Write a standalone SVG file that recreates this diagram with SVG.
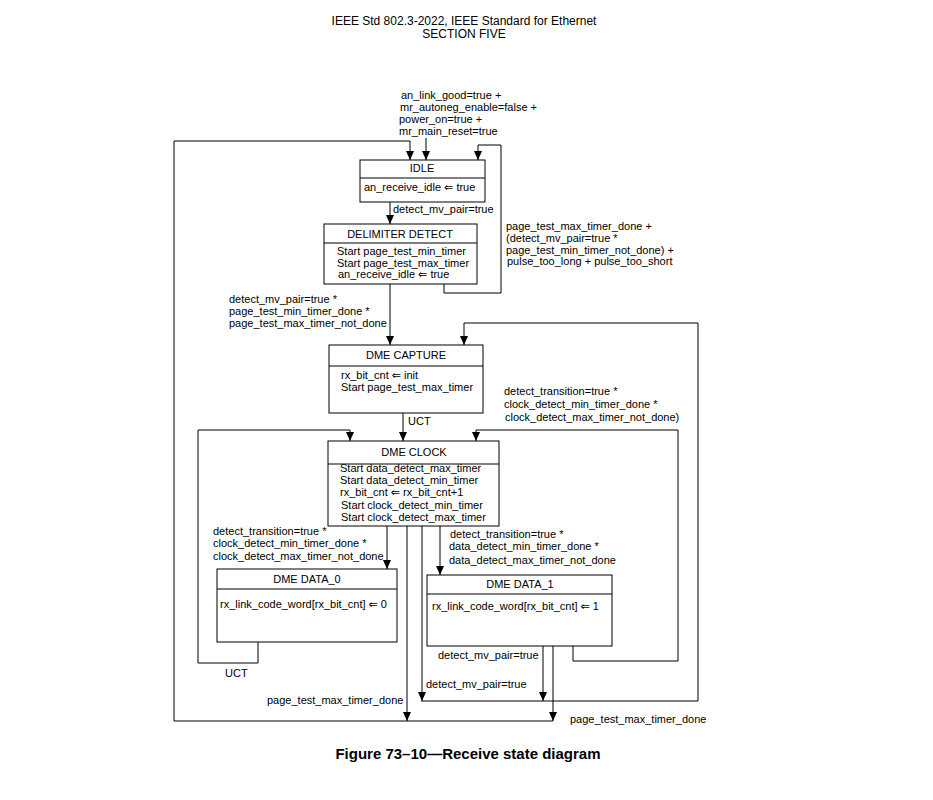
<svg xmlns="http://www.w3.org/2000/svg" width="933" height="800" viewBox="0 0 933 800">
<defs>
<marker id="ah" markerUnits="userSpaceOnUse" markerWidth="9" markerHeight="8" refX="9" refY="4" orient="auto">
<path d="M0,0 L9,4 L0,8 z" fill="#000"/>
</marker>
<style>
text{font-family:"Liberation Sans",Arial,"DejaVu Sans",sans-serif;font-size:11px;fill:#000}
.h{font-size:12px}
.cap{font-size:15px;font-weight:bold}
.m{text-anchor:middle}
.box{fill:#fff;stroke:#000;stroke-width:1}
.ln{fill:none;stroke:#000;stroke-width:1}
.ar{fill:none;stroke:#000;stroke-width:1;marker-end:url(#ah)}
</style>
</defs>
<rect width="933" height="800" fill="#fff"/>
<text class="h m" x="464" y="25">IEEE Std 802.3-2022, IEEE Standard for Ethernet</text>
<text class="h m" x="464" y="38">SECTION FIVE</text>

<g id="connectors">
<path class="ar" d="M426,138 V160"/>
<path class="ar" d="M174,721 V141 H410 V160"/>
<path class="ar" d="M444,284 V293 H501 V145 H478 V160"/>
<path class="ar" d="M390,202 V224"/>
<path class="ar" d="M390,284 V345"/>
<path class="ar" d="M421,701 H698 V323 H464 V345"/>
<path class="ar" d="M403,413 V441"/>
<path class="ar" d="M258,642 V663 H198 V430 H350 V441"/>
<path class="ar" d="M573,646 V661 H678 V430 H476 V441"/>
<path class="ar" d="M387,526 V569"/>
<path class="ar" d="M440,526 V575"/>
<path class="ar" d="M407,526 V721"/>
<path class="ar" d="M422,526 V701"/>
<path class="ar" d="M543,646 V701"/>
<path class="ar" d="M553,646 V721"/>
<path class="ln" d="M174,721 H553"/>
</g>

<g id="labels">
<text x="401" y="99">an_link_good=true +</text>
<text x="400" y="111">mr_autoneg_enable=false +</text>
<text x="399" y="123">power_on=true +</text>
<text x="399" y="135">mr_main_reset=true</text>
<text x="393" y="213">detect_mv_pair=true</text>
<text x="506" y="230">page_test_max_timer_done +</text>
<text x="506" y="242">(detect_mv_pair=true *</text>
<text x="506" y="254">page_test_min_timer_not_done) +</text>
<text x="507" y="265">pulse_too_long + pulse_too_short</text>
<text x="229" y="303">detect_mv_pair=true *</text>
<text x="229" y="315">page_test_min_timer_done *</text>
<text x="229" y="327">page_test_max_timer_not_done</text>
<text x="408" y="425">UCT</text>
<text x="504" y="395">detect_transition=true *</text>
<text x="504" y="408">clock_detect_min_timer_done *</text>
<text x="505" y="421">clock_detect_max_timer_not_done)</text>
<text x="213" y="535">detect_transition=true *</text>
<text x="213" y="547">clock_detect_min_timer_done *</text>
<text x="213" y="560">clock_detect_max_timer_not_done</text>
<text x="450" y="538">detect_transition=true *</text>
<text x="449" y="550">data_detect_min_timer_done *</text>
<text x="449" y="564">data_detect_max_timer_not_done</text>
<text x="438" y="659">detect_mv_pair=true</text>
<text x="426" y="688">detect_mv_pair=true</text>
<text x="225" y="677">UCT</text>
<text x="267" y="704">page_test_max_timer_done</text>
<text x="570" y="723">page_test_max_timer_done</text>
</g>

<g id="idle">
<rect class="box" x="360" y="160" width="125" height="42"/>
<path class="ln" d="M360,178 H485"/>
<text class="m" x="422" y="172">IDLE</text>
<text x="364" y="191">an_receive_idle ⇐ true</text>
</g>

<g id="delimiter-detect">
<rect class="box" x="324" y="224" width="153" height="60"/>
<path class="ln" d="M324,243 H477"/>
<text class="m" x="400" y="238">DELIMITER DETECT</text>
<text x="337" y="255">Start page_test_min_timer</text>
<text x="337" y="267">Start page_test_max_timer</text>
<text x="338" y="278">an_receive_idle ⇐ true</text>
</g>

<g id="dme-capture">
<rect class="box" x="329" y="345" width="154" height="68"/>
<path class="ln" d="M329,366 H483"/>
<text class="m" x="406" y="359">DME CAPTURE</text>
<text x="341" y="379">rx_bit_cnt ⇐ init</text>
<text x="341" y="391">Start page_test_max_timer</text>
</g>

<g id="dme-clock">
<rect class="box" x="328" y="441" width="171" height="85"/>
<path class="ln" d="M328,464 H499"/>
<text class="m" x="414" y="456">DME CLOCK</text>
<text x="340" y="472">Start data_detect_max_timer</text>
<text x="340" y="484">Start data_detect_min_timer</text>
<text x="340" y="496">rx_bit_cnt ⇐ rx_bit_cnt+1</text>
<text x="341" y="509">Start clock_detect_min_timer</text>
<text x="341" y="521">Start clock_detect_max_timer</text>
</g>

<g id="dme-data-0">
<rect class="box" x="217" y="569" width="180" height="73"/>
<path class="ln" d="M217,589 H397"/>
<text class="m" x="307" y="583">DME DATA_0</text>
<text x="220" y="608">rx_link_code_word[rx_bit_cnt] ⇐ 0</text>
</g>

<g id="dme-data-1">
<rect class="box" x="427" y="575" width="185" height="71"/>
<path class="ln" d="M427,594 H612"/>
<text class="m" x="520" y="588">DME DATA_1</text>
<text x="432" y="610">rx_link_code_word[rx_bit_cnt] ⇐ 1</text>
</g>

<text class="cap m" x="468" y="759">Figure 73–10—Receive state diagram</text>
</svg>
